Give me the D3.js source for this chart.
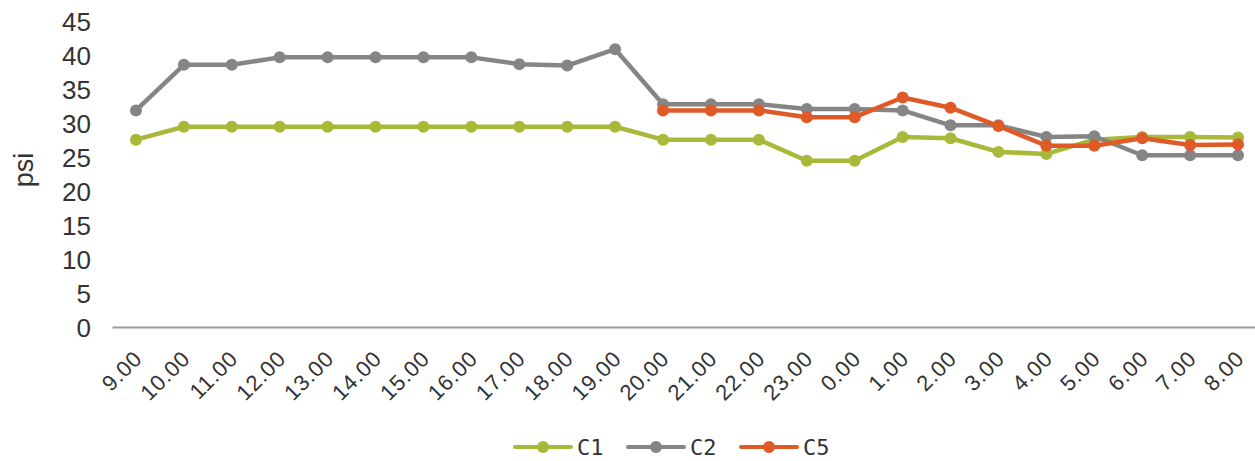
<!DOCTYPE html>
<html>
<head>
<meta charset="utf-8">
<script src="https://cdn.jsdelivr.net/npm/d3@7"></script>
<style>
  html, body { margin: 0; padding: 0; background: #fff; }
  svg { display: block; }
</style>
</head>
<body>
<svg id="chart" width="1255" height="461"></svg>
<script>
const categories = ["9.00","10.00","11.00","12.00","13.00","14.00","15.00","16.00","17.00","18.00","19.00","20.00","21.00","22.00","23.00","0.00","1.00","2.00","3.00","4.00","5.00","6.00","7.00","8.00"];
const c1Values = [27.7, 29.6, 29.6, 29.6, 29.6, 29.6, 29.6, 29.6, 29.6, 29.6, 29.6, 27.7, 27.7, 27.7, 24.6, 24.6, 28.1, 27.9, 25.9, 25.6, 27.7, 28.1, 28.1, 28.0];
const c2Values = [32.0, 38.7, 38.7, 39.8, 39.8, 39.8, 39.8, 39.8, 38.8, 38.6, 41.0, 32.9, 32.9, 32.9, 32.2, 32.2, 32.0, 29.8, 29.8, 28.1, 28.2, 25.4, 25.4, 25.4];
const c5Values = [null, null, null, null, null, null, null, null, null, null, null, 32.0, 32.0, 32.0, 31.0, 31.0, 33.9, 32.4, 29.7, 26.8, 26.8, 27.9, 26.9, 27.0];
const yTicks = [0, 5, 10, 15, 20, 25, 30, 35, 40, 45];
const seriesNames = ["C1", "C2", "C5"];
const seriesColors = ["#a8b838", "#858585", "#e05a28"];

const svg = d3.select("#chart");
const x = d3.scalePoint().domain(categories).range([112, 1262]).padding(0.5);
const y = d3.scaleLinear().domain([0, 45]).range([328, 22]);

const tickFont = "'Liberation Sans', Arial, sans-serif";

// Y axis
const yAxis = svg.append("g").attr("transform", "translate(91,0)")
  .call(d3.axisLeft(y).tickValues(yTicks).tickSize(0).tickPadding(0));
yAxis.select(".domain").remove();
yAxis.selectAll("text")
  .attr("font-family", tickFont).attr("font-size", 26).attr("fill", "#333");

// Y label
svg.append("text")
  .attr("transform", "translate(33,170) rotate(-90)")
  .attr("text-anchor", "middle")
  .attr("font-family", tickFont).attr("font-size", 27).attr("fill", "#333")
  .text("psi");

// X axis
const xAxis = svg.append("g").attr("transform", "translate(0,327)")
  .call(d3.axisBottom(x).tickSize(0).tickPadding(0));
xAxis.select(".domain").attr("stroke", "#999").attr("stroke-width", 2);
xAxis.selectAll("text")
  .attr("font-family", tickFont).attr("font-size", 22).attr("fill", "#333")
  .attr("letter-spacing", 0.8)
  .attr("text-anchor", "end")
  .attr("dy", 0)
  .attr("transform", "translate(7,33) rotate(-45)");

// Lines
const line = d3.line()
  .defined(d => d.v !== null)
  .x(d => x(d.c))
  .y(d => y(d.v));

const allSeries = [c1Values, c2Values, c5Values];
allSeries.forEach((vals, i) => {
  const data = vals.map((v, j) => ({ c: categories[j], v }));
  const g = svg.append("g");
  g.append("path").datum(data)
    .attr("fill", "none").attr("stroke", seriesColors[i])
    .attr("stroke-width", 4.5).attr("stroke-linejoin", "round")
    .attr("d", line);
  g.selectAll("circle").data(data.filter(d => d.v !== null)).enter().append("circle")
    .attr("cx", d => x(d.c)).attr("cy", d => y(d.v)).attr("r", 6)
    .attr("fill", seriesColors[i]);
});

// Legend
const legendX = [515, 628, 741];
seriesNames.forEach((name, i) => {
  const g = svg.append("g").attr("transform", `translate(${legendX[i]},447)`);
  g.append("line").attr("x1", 0).attr("x2", 56).attr("y1", 0).attr("y2", 0)
    .attr("stroke", seriesColors[i]).attr("stroke-width", 4).attr("stroke-linecap", "round");
  g.append("circle").attr("cx", 28).attr("cy", 0).attr("r", 6).attr("fill", seriesColors[i]);
  g.append("text").attr("x", 62).attr("y", 8)
    .attr("font-family", "'DejaVu Sans Mono', monospace").attr("font-size", 22).attr("fill", "#333")
    .text(name);
});
</script>
</body>
</html>
